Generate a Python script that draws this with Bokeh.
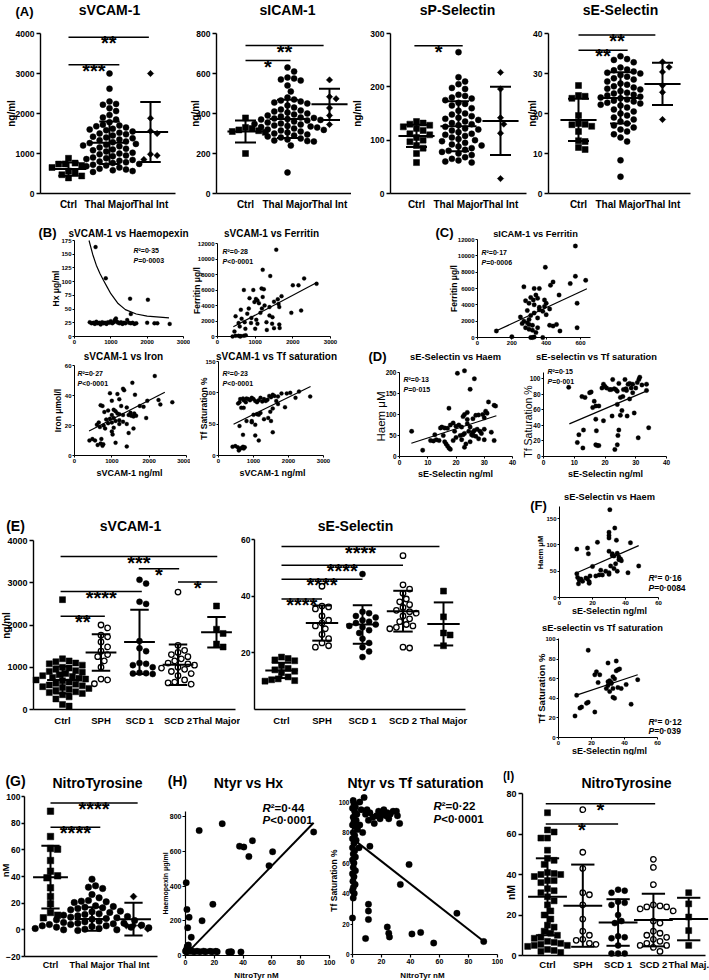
import numpy as np
from bokeh.plotting import figure
from bokeh.models import Range1d, Label, FixedTicker
from bokeh.layouts import row, column
from bokeh.embed import file_html
from bokeh.resources import INLINE

FONT = "Liberation Sans"

# ============================ DATA ============================
a_cats = ["Ctrl", "Thal Major", "Thal Int"]
e_cats = ["Ctrl", "SPH", "SCD 1", "SCD 2", "Thal Major"]
i_cats = ["Ctrl", "SPH", "SCD 1", "SCD 2", "Thal Maj."]

# (A) sVCAM-1 ng/ml
a1_ctrl = [880, 760, 740, 735, 700, 650, 560, 520, 470, 440, 390]
a1_tmaj = [3000, 2620, 2300, 2240, 2220, 2130, 2060, 1960, 1900, 1850, 1780, 1720, 1700, 1680,
           1650, 1620, 1600, 1580, 1550, 1520, 1500, 1480, 1450, 1420, 1400, 1380, 1350, 1330,
           1300, 1280, 1260, 1240, 1220, 1200, 1180, 1150, 1120, 1100, 1080, 1050, 1020, 1000,
           980, 950, 930, 900, 880, 860, 840, 820, 800, 780, 760, 740, 720, 700, 680, 650, 620,
           600, 580, 560, 540]
a1_tint = [3000, 1880, 1560, 1500, 980, 950, 850]
a1_mean = [610, 1270, 1540]
a1_sd = [165, 530, 750]
a1_sig = [("***", 1.0, 2.24, 3220), ("**", 1.0, 2.96, 3905)]

# (A) sICAM-1 ng/ml
a2_ctrl = [378, 330, 325, 318, 314, 310, 306, 200]
a2_tmaj = [630, 610, 580, 575, 570, 565, 540, 510, 480, 470, 465, 460, 455, 450, 440, 430, 420,
           415, 410, 405, 400, 395, 390, 385, 380, 378, 375, 372, 370, 368, 365, 360, 355, 350,
           348, 345, 340, 338, 335, 332, 330, 325, 320, 318, 315, 310, 305, 300, 295, 290, 285,
           280, 275, 270, 265, 262, 260, 240, 105]
a2_tint = [568, 484, 474, 428, 390, 345]
a2_mean = [310, 373, 446]
a2_sd = [55, 96, 78]
a2_sig = [("*", 1.0, 2.07, 665), ("**", 1.0, 2.86, 740)]

# (A) sP-Selectin ng/ml
a3_ctrl = [135, 132, 130, 128, 125, 122, 118, 112, 110, 105, 100, 97, 90, 85, 75, 58]
a3_tmaj = [265, 218, 210, 205, 198, 196, 185, 183, 180, 178, 175, 170, 168, 165, 160, 155, 150,
           148, 145, 142, 140, 138, 135, 132, 130, 128, 125, 122, 120, 118, 115, 112, 110, 108,
           105, 102, 100, 98, 95, 92, 90, 88, 85, 82, 80, 78, 75, 72, 68, 65, 62, 60, 58]
a3_tint = [227, 196, 142, 130, 113, 28]
a3_mean = [108, 126, 136]
a3_sd = [21, 47, 64]
a3_sig = [("*", 0.95, 2.1, 277)]

# (A) sE-Selectin ng/ml
a4_ctrl = [27, 24.5, 24.3, 23.8, 19.5, 17.5, 17.3, 17.2, 16.8, 15.5, 13.2, 13.0, 11.5, 11.0]
a4_tmaj = [34.3, 33.6, 33.4, 32.8, 31.5, 31.0, 30.8, 30.5, 30.2, 30.0, 29.6, 29.2, 28.8, 28.5,
           28.0, 27.5, 27.2, 26.8, 26.5, 26.2, 26.0, 25.6, 25.2, 25.0, 24.7, 24.5, 24.2, 24.0,
           23.8, 23.5, 23.2, 23.0, 22.7, 22.5, 22.2, 22.0, 21.5, 21.0, 20.5, 20.0, 19.5, 19.0,
           18.5, 18.0, 17.5, 17.0, 16.5, 16.0, 15.5, 14.8, 14.0, 13.0, 8.3, 4.2]
a4_tint = [32.9, 31.6, 30.4, 27.0, 25.3, 18.5]
a4_mean = [18.4, 23.9, 27.4]
a4_sd = [5.3, 6.4, 5.3]
a4_sig = [("**", 1.0, 2.17, 35.8), ("**", 1.0, 2.83, 39.6)]

# (B) sVCAM-1 (x) vs Haemopexin (y)
b1_pts = [(420, 26), (470, 24), (520, 25), (560, 23), (600, 27), (640, 24), (680, 25), (720, 22),
          (760, 26), (800, 24), (840, 25), (880, 23), (920, 26), (960, 25), (1000, 28), (1040, 24),
          (1080, 26), (1110, 30), (1140, 33), (1170, 27), (1200, 25), (1240, 24), (1280, 26),
          (1320, 23), (1360, 25), (1400, 24), (1450, 30), (1500, 25), (1550, 24), (1600, 25),
          (1650, 23), (1700, 24), (2000, 25), (2200, 24), (2280, 24), (2620, 23),
          (580, 163), (860, 106), (1530, 69), (2020, 67), (1550, 41)]
b1_curve_x = [400, 500, 600, 700, 800, 900, 1000, 1200, 1400, 1700, 2000, 2600]
b1_curve_y = [175, 150, 130, 115, 102, 90, 78, 60, 49, 41, 37, 34]

# (B) sVCAM-1 vs Ferritin
b2_pts = [(1560, 11200), (1200, 8600), (1400, 7800), (2300, 7500), (2630, 6800), (2000, 6600),
          (2150, 6600), (700, 6000), (950, 6000), (1170, 6200), (1230, 6100), (1700, 5200),
          (1200, 5100), (850, 4950), (1020, 4850), (1060, 4650), (980, 4450), (1600, 4800),
          (1620, 4200), (1380, 3800), (1640, 3800), (1960, 3050), (2220, 3350), (830, 3600),
          (1180, 3600), (620, 3450), (790, 2950), (1140, 3050), (1380, 2700), (1460, 2500),
          (480, 2600), (640, 2300), (900, 2400), (1030, 2150), (560, 1750), (720, 1850),
          (890, 1750), (1060, 1650), (1300, 1850), (1450, 1650), (1640, 1550), (590, 1300),
          (740, 1000), (1000, 1000), (1310, 850), (1500, 1080), (1650, 1100), (450, 650),
          (480, 100), (560, 100), (620, 50), (700, 100), (750, 150), (400, 0), (600, 0),
          (1100, 4300), (1250, 4000), (1500, 4500)]
b2_fit = ([420, 2650], [1250, 7000])

# (B) sVCAM-1 vs Iron
b3_pts = [(2150, 53), (1550, 48.5), (1300, 44.5), (1330, 43.5), (950, 41.5), (1150, 41), (1620, 40.5),
          (1200, 37.5), (1000, 36.5), (1950, 36.5), (2250, 37), (2620, 35.5), (2300, 34), (1750, 33),
          (1850, 32.5), (700, 33.5), (750, 33), (1250, 33), (1400, 32), (1050, 30.5), (900, 30),
          (1100, 29.5), (800, 29), (1500, 28.5), (1600, 28), (1150, 28), (1200, 27.5), (1000, 27),
          (1300, 27), (1450, 27), (1520, 26.5), (1580, 26), (1650, 26.5), (1050, 25), (950, 24.5),
          (850, 24), (1200, 23.5), (1100, 23), (1300, 22.5), (1000, 22), (900, 21.5), (650, 22),
          (600, 20.5), (780, 20), (1200, 21), (1400, 21), (1920, 25), (1050, 18.5), (820, 18),
          (680, 19), (1000, 16), (1580, 18), (1450, 15), (1100, 8.5), (1400, 6), (400, 10),
          (480, 11), (550, 10), (620, 7), (700, 8), (720, 11), (750, 6.5), (770, 7.5), (1020, 14)]
b3_fit = ([390, 2420], [16.3, 42.2])

# (B) sVCAM-1 vs Tf saturation
b4_pts = [(560, 83), (600, 85), (620, 90), (700, 91), (720, 88), (780, 85), (800, 91), (850, 90),
          (900, 88), (950, 92), (1000, 90), (1050, 87), (1100, 85), (1150, 88), (1200, 92),
          (1250, 86), (1300, 90), (1350, 87), (1400, 89), (1450, 95), (1500, 93), (1550, 97),
          (1600, 95), (1700, 94), (1650, 87), (1800, 99), (1950, 99), (2050, 100), (2300, 102),
          (2620, 94), (2200, 92), (1900, 77), (1700, 82), (650, 76), (720, 76), (1550, 75),
          (1480, 70), (1200, 68), (1150, 65), (1100, 66), (1000, 65), (1420, 60), (1500, 55),
          (1300, 58), (950, 55), (950, 53), (1050, 49), (800, 55), (600, 47), (1550, 37),
          (1050, 32), (700, 33), (1150, 24), (400, 14), (480, 15), (550, 13), (600, 10),
          (650, 12), (700, 14), (720, 11), (750, 13), (580, 8)]
b4_fit = ([430, 2630], [50, 110])

# (C) sICAM-1 vs Ferritin
c_pts = [(570, 11200), (395, 8600), (570, 7500), (630, 7000), (440, 6800), (425, 6400), (540, 6600),
         (270, 6200), (330, 6000), (360, 6000), (475, 5200), (340, 5200), (310, 4900), (280, 4500),
         (325, 4600), (350, 4800), (300, 4200), (330, 4000), (400, 4200), (390, 3800), (420, 3500),
         (360, 3700), (290, 3300), (250, 2500), (330, 3000), (380, 3200), (310, 2700), (350, 2400),
         (270, 2000), (290, 1800), (300, 1600), (260, 1700), (320, 1500), (420, 1500), (440, 1400),
         (460, 1600), (480, 800), (350, 1200), (300, 1000), (320, 900), (580, 4200), (580, 1200),
         (110, 800), (200, 100), (310, 0), (320, 0), (330, 50), (380, 0), (340, 600), (280, 1200),
         (360, 3400), (400, 2800), (300, 2200), (390, 4600)]
c_fit = ([110, 637], [820, 5960])

# (D) sE-Selectin vs Haem
d1_pts = [(4.3, 60), (8.2, 15), (20.5, 198), (23, 204), (26.5, 185), (25, 160), (17.5, 115),
          (31.5, 130), (33.5, 122), (34, 120), (30.5, 108), (31, 103), (29.5, 100), (28, 99),
          (27, 98), (23, 100), (24, 105), (22.5, 95), (26, 90), (30, 92), (19, 80), (18, 75),
          (16, 68), (15, 70), (14.5, 68), (17, 67), (20, 72), (22, 70), (24, 78), (25, 70),
          (26.5, 62), (28.5, 60), (30, 65), (32.5, 58), (21.5, 50), (23, 55), (24.5, 60),
          (25.5, 52), (27, 48), (28, 42), (29, 55), (30, 40), (33.5, 38), (12, 37), (13, 40),
          (15.5, 50), (16.5, 30), (17, 25), (17.5, 20), (18, 17), (16, 35), (19, 38), (20, 45),
          (22, 40), (23, 22), (23.5, 30), (25, 35), (26, 50), (27.5, 65), (12.5, 52), (14, 38),
          (11, 38), (19.5, 60), (21, 75), (24, 88), (22.5, 52), (26, 58)]
d1_fit = ([4.2, 34.3], [31.6, 97])

# (D) sE-selectin vs Tf saturation
d2_pts = [(8.2, 89), (11, 18), (11.5, 28), (12.8, 11), (13, 34), (12.5, 77), (13.5, 76), (15, 82),
          (15.5, 83), (16, 63), (16.5, 71), (17, 65), (17, 48), (17.2, 33), (17, 15), (17.5, 14),
          (18, 14), (18, 65), (19, 88), (19.5, 93), (19.5, 46), (20, 90), (20.5, 88), (22, 86),
          (22.5, 99), (22.3, 52), (23, 87), (23.5, 86), (24, 84), (24, 67), (23.2, 9), (24, 15),
          (24.2, 27), (24.5, 34), (24.5, 94), (25, 76), (25, 53), (25.5, 59), (25.8, 77),
          (26.5, 99), (26.8, 87), (27, 85), (27.2, 52), (27.5, 93), (28, 94), (28.5, 88),
          (29, 82), (29.5, 56), (30, 88), (30.5, 95), (31, 99), (31.3, 102), (32, 92),
          (33.5, 93), (33.5, 85), (30.8, 24), (34.2, 37), (28, 74), (26, 86), (21.5, 86), (29, 93)]
d2_fit = ([8.4, 34], [42, 85])

# (E) sVCAM-1 ng/ml
e1_groups = [
    [2600, 1200, 1150, 1130, 1100, 1080, 1050, 1000, 980, 950, 920, 900, 880, 850, 820, 800, 780,
     760, 740, 720, 700, 680, 650, 620, 600, 580, 560, 540, 520, 500, 480, 450, 420, 400, 380, 350,
     300, 250, 120, 80],
    [2000, 1930, 1760, 1720, 1600, 1480, 1380, 1300, 1250, 1150, 1000, 720, 700, 610],
    [3070, 2980, 2550, 2500, 1620, 1450, 1380, 1100, 1080, 1050, 1000, 870, 860, 850, 840],
    [2780, 1520, 1400, 1350, 1300, 1250, 1200, 1150, 1100, 1080, 1050, 1000, 980, 950, 900, 850,
     800, 700, 650, 630, 600],
    [2450, 1900, 1800, 1550, 1480]]
e1_mean = [700, 1350, 1600, 1060, 1830]
e1_sd = [320, 430, 760, 480, 360]
e1_sig = [("**", 0.95, 2.1, 2210), ("****", 0.95, 3.06, 2790), ("*", 4.0, 5.02, 3020),
          ("*", 2.98, 4.03, 3330), ("***", 0.95, 5.02, 3620)]

# (E) sE-Selectin ng/ml
e2_groups = [
    [18.5, 18.0, 17.5, 17.2, 15.5, 14.5, 14.0, 13.5, 13.0, 11.5, 10.8, 10.5, 10.2, 10.0],
    [43.5, 36.5, 36.2, 35.5, 33.0, 31.5, 30.5, 29.5, 28.5, 26.5, 25.0, 23.5, 22.5, 22.0],
    [47.8, 34.5, 34.0, 33.0, 32.5, 31.5, 31.0, 30.5, 30.0, 29.5, 29.0, 28.0, 27.0, 25.0, 23.5,
     22.0, 20.5, 18.5],
    [54.3, 44.0, 42.5, 41.0, 39.0, 38.0, 37.0, 36.0, 35.0, 34.5, 34.0, 33.0, 32.0, 31.0, 30.0,
     29.5, 29.0, 28.5, 22.0, 21.7],
    [41.8, 32.7, 27.0, 26.3, 22.5]]
e2_mean = [13.8, 30.5, 30.0, 34.7, 30.2]
e2_sd = [2.7, 6.2, 6.8, 7.2, 7.6]
e2_sig = [("****", 1.0, 2.0, 39.0), ("****", 1.0, 3.0, 46.0), ("****", 1.0, 4.0, 50.9),
          ("****", 1.0, 4.9, 57.5)]

# (F) sE-Selectin vs Haem / Tf saturation
f1_pts = [(10.5, 92), (17, 94), (17.5, 83), (23, 105), (30, 124), (30, 118), (30, 113), (30.5, 167),
          (33.5, 132), (34.5, 109), (30, 88), (32, 83), (33, 79), (35, 84), (36, 77), (37, 73),
          (37.5, 70), (43, 104), (48, 60), (41.5, 47), (10.5, 45), (11, 38), (11.5, 26), (12, 33),
          (13, 35), (14, 31), (16, 37), (17, 35), (18, 27), (18, 30), (18.5, 41), (20, 59),
          (22, 41), (24, 43), (26, 43), (25, 52), (28, 50), (30, 47), (30, 44), (31, 60), (33, 55),
          (34, 64), (35, 50), (36, 72), (32, 80)]
f1_fit = ([10.5, 48], [47, 98.7])
f2_pts = [(18, 89), (10, 22), (11, 43), (13, 30), (14, 31), (17, 35), (18, 36), (22, 64), (23, 67),
          (22, 26), (24, 56), (25, 64), (30, 76), (30, 57), (30, 53), (29, 50), (31, 47), (32, 56),
          (32, 55), (33, 50), (33, 41), (34, 40), (34, 60), (35, 68), (35, 78), (36, 69), (37, 70),
          (36, 51), (38, 50), (41, 54), (44, 34), (48, 59), (31, 58), (33, 62)]
f2_fit = ([10.5, 48], [43, 64])

# (G) NitroTyrosine nM
g_groups = [
    [89, 70, 61, 60.5, 52, 44, 40.5, 39, 31.5, 25, 19.5, 13, 11, 9],
    [38, 33, 32, 31, 26.5, 24, 22, 21.5, 21, 20.5, 18, 17.5, 17, 16.5, 16, 15, 14, 13.5, 13, 12,
     11.5, 11, 10.5, 10, 9.5, 9, 8.5, 8, 7.5, 7, 6.5, 6, 5.5, 5, 5, 4.5, 4, 4, 3.5, 3, 3, 2.5, 2,
     2, 1.5, 1, 1, 0.5, 0, 0, -0.5],
    [25, 3.2, 0.7, 3.2, 3.2]]
g_mean = [39.5, 8.2, 8.0]
g_sd = [23.5, 8.8, 12.3]
g_sig = [("****", 1.0, 2.2, 77), ("****", 1.0, 3.1, 95.2)]

# (H) NitroTyr vs Hx / Tf saturation
h1_pts = [(0.5, 420), (1, 265), (2.5, 220), (1.5, 160), (4, 105), (9.5, 720), (11.5, 200),
          (19, 295), (25.5, 760), (37.5, 630), (40.5, 625), (44, 570), (46.5, 662), (58, 518),
          (60.5, 598), (89, 712),
          (0, 25), (0.5, 30), (1, 40), (1.5, 55), (2, 60), (2.5, 35), (3, 25), (0.8, 20), (1.2, 50),
          (3.5, 28), (4.5, 25), (6, 22), (8, 25), (10, 22), (12.5, 25), (14, 22), (17, 24),
          (18.5, 22), (21, 24), (22, 22), (30, 20), (31.5, 22), (32, 20), (38.5, 20)]
h1_fit = ([0, 89], [5, 765])
h2_pts = [(0.5, 101), (1, 99), (2, 97), (0, 96), (1.5, 94), (3, 92), (0.5, 90), (2.5, 88), (1, 87),
          (0, 85), (2, 84), (3.5, 82), (0.5, 80), (1.5, 78), (0, 76), (2.5, 75), (1, 73), (0, 70),
          (1.5, 68), (0.5, 66), (2, 64), (0, 62), (1, 60), (0.5, 57), (2, 55), (0, 53), (1, 51),
          (0.3, 48), (1.8, 46), (0.6, 44), (0, 42), (1.2, 40), (0.5, 37), (0, 24),
          (5, 100), (6, 95), (8, 103), (9, 92), (10, 95), (11, 88), (12, 93), (14, 90), (15, 86),
          (16.5, 91), (18, 94), (19, 89), (20, 92), (21.6, 95), (23, 91), (24, 93), (25, 89),
          (26, 92), (28, 94), (30.3, 94), (31, 91), (32.5, 86), (5, 85), (7, 80), (4.5, 70), (12, 71),
          (33, 46), (39, 59), (11, 33), (11, 28.5), (11, 23), (24, 18), (25, 14), (25.5, 11.5),
          (9, 10.5), (41, 13.5), (47, 14.5), (56, 7.5), (72, 27), (90.5, 8.5)]
h2_fit = ([0, 90], [76, 9])

# (I) NitroTyrosine nM
i_groups = [
    [70.5, 62, 61, 58, 58, 52, 48, 47, 45, 41, 40.5, 40, 40, 39, 37, 37, 36, 33, 32, 31, 29, 27,
     25, 22, 20, 18, 15, 14, 12, 11, 10, 9, 8.5, 7, 6.5, 6, 5.5, 5, 5, 4.5, 3, 2.5, 2, 1.5],
    [72, 51, 43, 31, 30, 25, 18, 12, 10, 8, 7.5, 6, 5.5],
    [32.5, 32, 31, 26.5, 26, 25, 20, 17, 16, 9.5, 9, 8.5, 5, 1, 1, 1],
    [47.5, 43.5, 35, 25, 24.5, 24, 24, 23, 22, 17, 16, 12, 11, 10, 9, 8, 7, 6, 5, 5, 4, 2],
    [31, 25.5, 19, 12.3, 5]]
i_mean = [29, 24.6, 16.3, 17.5, 18]
i_sd = [19, 20.3, 11.5, 13, 10.5]
i_sig = [("*", 0.95, 3.0, 65), ("*", 0.95, 4.05, 75)]


# ============================ HELPERS ============================
class Panel:
    """A figure covering a page box; its plot area (axes) sits at a given page rectangle."""

    def __init__(self, box, frame, xr, yr):
        gx0, gy0, gx1, gy1 = box
        self.f = frame
        self.xr = xr
        self.yr = yr
        p = figure(width=gx1 - gx0, height=gy1 - gy0,
                   x_range=Range1d(self.dx(gx0), self.dx(gx1)),
                   y_range=Range1d(self.dy(gy1), self.dy(gy0)),
                   min_border=0, min_border_left=0, min_border_right=0,
                   min_border_top=0, min_border_bottom=0,
                   output_backend="svg", toolbar_location=None, title=None)
        p.xgrid.visible = False
        p.ygrid.visible = False
        p.outline_line_color = None
        p.background_fill_color = "white"
        p.border_fill_color = "white"
        self.p = p

    def ppx(self):
        return (self.f[2] - self.f[0]) / (self.xr[1] - self.xr[0])

    def ppy(self):
        return (self.f[3] - self.f[1]) / (self.yr[1] - self.yr[0])

    def dx(self, px):
        return self.xr[0] + (px - self.f[0]) / self.ppx()

    def dy(self, py):
        return self.yr[0] + (self.f[3] - py) / self.ppy()

    def px(self, x):
        return self.f[0] + (x - self.xr[0]) * self.ppx()

    def py(self, y):
        return self.f[3] - (y - self.yr[0]) * self.ppy()


def cat_range(frame, c1, s):
    return (1 + (frame[0] - c1) / s, 1 + (frame[2] - c1) / s)


def axes(P, xticks, yticks, xfs, yfs, xout, yout, xst, yst, lw, xlabels=None):
    xa = P.p.xaxis[0]
    ya = P.p.yaxis[0]
    xa.fixed_location = P.yr[0]
    xa.bounds = (P.xr[0], P.xr[1])
    ya.fixed_location = P.xr[0]
    ya.bounds = (P.yr[0], P.yr[1])
    specs = [(xa, xticks, xfs, xout, xst), (ya, yticks, yfs, yout, yst)]
    for ax, ticks, fs, out, st in specs:
        ax.ticker = FixedTicker(ticks=ticks, minor_ticks=[])
        ax.axis_line_color = "black"
        ax.axis_line_width = lw
        ax.major_tick_line_color = "black" if out > 0 else None
        ax.major_tick_line_width = lw
        ax.major_tick_out = out
        ax.major_tick_in = 0
        ax.minor_tick_out = 0
        ax.minor_tick_in = 0
        ax.minor_tick_line_color = None
        ax.major_label_text_font = FONT
        ax.major_label_text_font_style = "bold"
        ax.major_label_text_font_size = f"{fs}px"
        ax.major_label_text_color = "black"
        ax.major_label_standoff = st
    if xlabels:
        xa.major_label_overrides = {i + 1: t for i, t in enumerate(xlabels)}


def lab(P, px, py, text, size, bold=True, italic=False, align="center",
        baseline="middle", angle=0.0):
    style = ("bold " if bold else "") + ("italic" if italic else "")
    style = style.strip() or "normal"
    P.p.add_layout(Label(x=P.dx(px), y=P.dy(py), x_units="data", y_units="data", text=text,
                         text_font=FONT, text_font_size=f"{size}px", text_font_style=style,
                         text_align=align, text_baseline=baseline, angle=angle,
                         text_color="black"))


def stat(P, px, py1, py2, r2, pv, size):
    lab(P, px, py1, "R", size, italic=True, align="left")
    lab(P, px + 0.72 * size, py1, "\u00b2" + r2, size, align="left")
    lab(P, px, py2, "P", size, italic=True, align="left")
    lab(P, px + 0.667 * size, py2, pv, size, align="left")


def beeswarm(vals, ppx, ppy, d):
    v = np.asarray(vals, dtype=float)
    order = np.argsort(-v, kind="stable")
    placed = []
    off = np.zeros(len(v))
    step = d / 2.0
    for i in order:
        yp = v[i] * ppy
        k = 0
        chosen = None
        while chosen is None:
            cands = [0.0] if k == 0 else [k * step, -k * step]
            for c in cands:
                if all((c - qx) ** 2 + (yp - qy) ** 2 >= (0.97 * d) ** 2 for qx, qy in placed):
                    chosen = c
                    break
            k += 1
        placed.append((chosen, yp))
        off[i] = chosen / ppx
    return off


def group(P, pos, vals, kind, size):
    d = size + 0.6
    off = beeswarm(vals, P.ppx(), P.ppy(), d)
    xs = [pos + o for o in off]
    if kind == "sq":
        P.p.scatter(xs, vals, marker="square", size=size, fill_color="black",
                    line_color="black", line_width=0.5)
    elif kind == "ci":
        P.p.scatter(xs, vals, marker="circle", size=size, fill_color="black",
                    line_color="black", line_width=0.5)
    elif kind == "oc":
        P.p.scatter(xs, vals, marker="circle", size=size - 0.5, fill_color="white",
                    line_color="black", line_width=1.3)
    elif kind == "di":
        P.p.scatter(xs, vals, marker="square", angle=np.pi / 4, size=size * 0.75,
                    fill_color="black", line_color="black", line_width=0.5)


def bars(P, means, sds, hw, cw, lw):
    for i, (m, s) in enumerate(zip(means, sds)):
        c = i + 1
        P.p.segment(x0=[c - hw, c, c - cw, c - cw], y0=[m, m - s, m + s, m - s],
                    x1=[c + hw, c, c + cw, c + cw], y1=[m, m + s, m + s, m - s],
                    line_color="black", line_width=lw)


def sig(P, items, size=20, lw=1.5):
    for txt, xa, xb, yv in items:
        P.p.segment(x0=[xa], y0=[yv], x1=[xb], y1=[yv], line_color="black", line_width=lw)
        lab(P, (P.px(xa) + P.px(xb)) / 2, P.py(yv) + 0.3 * size, txt, size,
            baseline="alphabetic")


def dots(P, pts, size):
    xs = [a for a, b in pts]
    ys = [b for a, b in pts]
    P.p.scatter(xs, ys, marker="circle", size=size, fill_color="black", line_color="black",
                line_width=0.3)


def fit(P, xy, lw=1.2):
    P.p.line(xy[0], xy[1], line_color="black", line_width=lw)


# ============================ (A) ============================
A_specs = [
    dict(box=(0, 0, 189, 222), frame=(40, 33, 175, 193), c1=68, s=41, yr=(0, 4000),
         yt=[0, 1000, 2000, 3000, 4000], groups=[a1_ctrl, a1_tmaj, a1_tint], mean=a1_mean,
         sd=a1_sd, sig=a1_sig, title="sVCAM-1", tx=109, lx=11),
    dict(box=(189, 0, 351, 222), frame=(216, 33, 351, 193), c1=245, s=42, yr=(0, 800),
         yt=[0, 200, 400, 600, 800], groups=[a2_ctrl, a2_tmaj, a2_tint], mean=a2_mean,
         sd=a2_sd, sig=a2_sig, title="sICAM-1", tx=287, lx=195),
    dict(box=(351, 0, 527, 222), frame=(390, 33, 526, 193), c1=416, s=42, yr=(0, 300),
         yt=[0, 100, 200, 300], groups=[a3_ctrl, a3_tmaj, a3_tint], mean=a3_mean,
         sd=a3_sd, sig=a3_sig, title="sP-Selectin", tx=457, lx=357),
    dict(box=(527, 0, 709, 222), frame=(548, 33, 690, 193), c1=578, s=42, yr=(0, 40),
         yt=[0, 10, 20, 30, 40], groups=[a4_ctrl, a4_tmaj, a4_tint], mean=a4_mean,
         sd=a4_sd, sig=a4_sig, title="sE-Selectin", tx=620, lx=532),
]
Ap = []
for sp in A_specs:
    P = Panel(sp["box"], sp["frame"], cat_range(sp["frame"], sp["c1"], sp["s"]), sp["yr"])
    axes(P, [1, 2, 3], sp["yt"], 10, 8.5, 0, 4, 5, 2, 1.4, a_cats)
    for j, (vals, kind) in enumerate(zip(sp["groups"], ["sq", "ci", "di"])):
        group(P, j + 1, vals, kind, 6.0)
    bars(P, sp["mean"], sp["sd"], 0.43, 0.25, 2.0)
    sig(P, sp["sig"], 20)
    lab(P, sp["tx"], 9, sp["title"], 14)
    lab(P, sp["lx"], 113, "ng/ml", 10, angle=np.pi / 2)
    Ap.append(P)
lab(Ap[0], 24, 11, "(A)", 13)

# ============================ (B) ============================
sv_ticks = [0, 1000, 2000, 3000]
B1 = Panel((0, 222, 190, 348), (74, 240, 183, 336), (0, 3000), (0, 175))
axes(B1, sv_ticks, [0, 25, 50, 75, 100, 125, 150, 175], 6, 6, 2, 2, 1, 1, 1.0)
dots(B1, b1_pts, 4)
B1.p.line(b1_curve_x, b1_curve_y, line_color="black", line_width=1.2)
lab(B1, 47, 232, "(B)", 13)
lab(B1, 128, 233, "sVCAM-1 vs Haemopexin", 10)
lab(B1, 55, 288, "Hx \u03bcg/ml", 8.5, angle=np.pi / 2)
stat(B1, 133, 250, 260, "=0\u00b735", "=0\u00b70003", 7)

B2 = Panel((190, 222, 345, 348), (217, 243, 330, 336), (0, 3000), (0, 12000))
axes(B2, sv_ticks, [0, 2000, 4000, 6000, 8000, 10000, 12000], 6, 6, 2, 2, 1, 1, 1.0)
dots(B2, b2_pts, 4)
fit(B2, b2_fit)
lab(B2, 271, 233, "sVCAM-1 vs Ferritin", 10)
lab(B2, 196, 290, "Ferritin \u03bcg/l", 8.5, angle=np.pi / 2)
stat(B2, 222, 251, 261, "=0\u00b728", "<0\u00b70001", 7)

B3 = Panel((0, 348, 190, 480), (74, 365, 186, 455), (0, 3000), (0, 60))
axes(B3, sv_ticks, [0, 20, 40, 60], 6, 6, 2, 2, 1, 1, 1.0)
dots(B3, b3_pts, 4)
fit(B3, b3_fit)
lab(B3, 123, 356, "sVCAM-1 vs Iron", 10)
lab(B3, 57, 410, "Iron \u03bcmol/l", 8.5, angle=np.pi / 2)
lab(B3, 129, 472, "sVCAM-1 ng/ml", 9)
stat(B3, 77, 373, 383, "=0\u00b727", "<0\u00b70001", 7)

B4 = Panel((190, 348, 345, 480), (218, 361, 323, 455), (0, 3000), (0, 150))
axes(B4, sv_ticks, [0, 50, 100, 150], 6, 6, 2, 2, 1, 1, 1.0)
dots(B4, b4_pts, 4)
fit(B4, b4_fit)
lab(B4, 276, 356, "sVCAM-1 vs Tf saturation", 10)
lab(B4, 203, 408, "Tf Saturation %", 8.5, angle=np.pi / 2)
lab(B4, 272, 472, "sVCAM-1 ng/ml", 9)
stat(B4, 222, 373, 383, "=0\u00b723", "<0\u00b70001", 7)

# ============================ (C) ============================
C = Panel((345, 222, 709, 348), (477, 239, 590, 337), (0, 658), (0, 12000))
axes(C, [0, 200, 400, 600], [0, 2000, 4000, 6000, 8000, 10000, 12000], 6, 6, 2, 2, 1, 1, 1.0)
dots(C, c_pts, 4.5)
fit(C, c_fit)
lab(C, 444, 232, "(C)", 13)
lab(C, 535, 233, "sICAM-1 vs Ferritin", 9.3)
lab(C, 453, 288, "Ferritin \u03bcg/l", 8.5, angle=np.pi / 2)
stat(C, 481, 252, 262, "=0\u00b717", "=0\u00b70006", 7)

# ============================ (D) ============================
D1 = Panel((345, 348, 519, 480), (399, 372, 512, 456), (0, 40), (0, 200))
axes(D1, [0, 10, 20, 30, 40], [0, 50, 100, 150, 200], 6.5, 6.5, 2, 2, 1, 1, 1.0)
dots(D1, d1_pts, 4.5)
fit(D1, d1_fit)
lab(D1, 377, 356, "(D)", 13)
lab(D1, 455, 356, "sE-Selectin vs Haem", 9.3)
lab(D1, 380, 416, "Haem \u03bcM", 11.5, bold=False, angle=np.pi / 2)
lab(D1, 455, 473, "sE-Selectin ng/ml", 9)
stat(D1, 403, 379, 389, "=0\u00b713", "=0\u00b7015", 7)

D2 = Panel((519, 348, 709, 480), (543, 372, 666, 456), (0, 40), (0, 108))
axes(D2, [0, 10, 20, 30, 40], [0, 20, 40, 60, 80, 100], 6.5, 6.5, 2, 2, 1, 1, 1.0)
dots(D2, d2_pts, 4.5)
fit(D2, d2_fit)
lab(D2, 596, 356, "sE-selectin vs Tf saturation", 9.3)
lab(D2, 527, 421, "Tf Saturation %", 10.5, bold=False, angle=np.pi / 2)
lab(D2, 605, 473, "sE-Selectin ng/ml", 9)
stat(D2, 547, 371, 381, "=0\u00b715", "=0\u00b7001", 7)

# ============================ (E) ============================
E1f = (33, 540, 235, 709)
E1 = Panel((0, 480, 240, 755), E1f, cat_range(E1f, 62, 38.5), (0, 4000))
axes(E1, [1, 2, 3, 4, 5], [0, 1000, 2000, 3000, 4000], 9.5, 9, 0, 4, 5, 2, 1.4, e_cats)
for j, (vals, kind) in enumerate(zip(e1_groups, ["sq", "oc", "ci", "oc", "sq"])):
    group(E1, j + 1, vals, kind, 6.0)
bars(E1, e1_mean, e1_sd, 0.4, 0.24, 2.0)
sig(E1, e1_sig, 20)
lab(E1, 15, 525, "(E)", 14)
lab(E1, 130, 525, "sVCAM-1", 14)
lab(E1, 6, 625, "ng/ml", 10, angle=np.pi / 2)

E2f = (254, 539, 465, 709)
E2 = Panel((240, 480, 500, 755), E2f, cat_range(E2f, 281, 40.5), (0, 60))
axes(E2, [1, 2, 3, 4, 5], [20, 40, 60], 9.5, 8.5, 0, 3, 5, 1, 1.4, e_cats)
for j, (vals, kind) in enumerate(zip(e2_groups, ["sq", "oc", "ci", "oc", "sq"])):
    group(E2, j + 1, vals, kind, 6.0)
bars(E2, e2_mean, e2_sd, 0.4, 0.24, 2.0)
sig(E2, e2_sig, 20)
lab(E2, 355, 525, "sE-Selectin", 14)

# ============================ (F) ============================
F1 = Panel((500, 480, 709, 619), (559, 506, 658, 597), (0, 60), (0, 173))
axes(F1, [0, 20, 40, 60], [0, 50, 100, 150], 6, 6, 2, 2, 1, 1, 1.0)
dots(F1, f1_pts, 4.5)
fit(F1, f1_fit)
lab(F1, 538, 505, "(F)", 13)
lab(F1, 609, 496, "sE-Selectin vs Haem", 9.3)
lab(F1, 540, 552, "Haem \u03bcM", 7.5, angle=np.pi / 2)
lab(F1, 609, 610, "sE-Selectin ng/ml", 9)
stat(F1, 648, 577, 587, "= 0\u00b716", "=0\u00b70084", 8.5)

F2 = Panel((500, 619, 709, 755), (558, 638, 657, 737), (0, 60), (0, 101))
axes(F2, [0, 20, 40, 60], [0, 20, 40, 60, 80, 100], 6, 6, 2, 2, 1, 1, 1.0)
dots(F2, f2_pts, 4.5)
fit(F2, f2_fit)
lab(F2, 602, 627, "sE-selectin vs Tf saturation", 9.3)
lab(F2, 541, 688, "Tf Saturation %", 9.5, angle=np.pi / 2)
lab(F2, 609, 750, "sE-Selectin ng/ml", 9)
stat(F2, 648, 721, 730, "= 0\u00b712", "=0\u00b7039", 8.5)

# ============================ (G) ============================
Gf = (24, 796, 157, 956)
G = Panel((0, 755, 160, 980), Gf, cat_range(Gf, 50, 41.5), (-20, 100))
axes(G, [1, 2, 3], [-20, 0, 20, 40, 60, 80, 100], 9, 8.5, 0, 3, 3, 1, 1.4, a_cats)
for j, (vals, kind) in enumerate(zip(g_groups, ["sq", "ci", "di"])):
    group(G, j + 1, vals, kind, 6.5)
bars(G, g_mean, g_sd, 0.42, 0.22, 2.0)
sig(G, g_sig, 20)
lab(G, 15, 780, "(G)", 14)
lab(G, 97, 782, "NitroTyrosine", 14)
lab(G, 5, 870, "nM", 9.5, angle=np.pi / 2)

# ============================ (H) ============================
H1 = Panel((160, 755, 338, 980), (185, 811, 329, 955), (0, 100), (0, 830))
axes(H1, [0, 20, 40, 60, 80, 100], [0, 200, 400, 600, 800], 7, 7, 3, 3, 1, 1, 1.2)
dots(H1, h1_pts, 6.5)
fit(H1, h1_fit, 2.0)
lab(H1, 177, 780, "(H)", 14)
lab(H1, 248, 782, "Ntyr vs Hx", 14)
lab(H1, 165, 883, "Haemopexin \u03bcg/ml", 7, angle=np.pi / 2)
lab(H1, 256, 975, "NitroTyr nM", 8)
stat(H1, 262, 807, 819, "=0\u00b744", "<0\u00b70001", 11.5)
# y-axis title of the neighbouring Tf-saturation panel sits in this canvas
lab(H1, 333, 880, "Tf Saturation %", 8.5, angle=np.pi / 2)

H2 = Panel((338, 755, 503, 980), (352, 797, 497, 954), (0, 100), (0, 103))
axes(H2, [0, 20, 40, 60, 80, 100], [0, 20, 40, 60, 80, 100], 7, 6.5, 3, 2, 1, 1, 1.2)
dots(H2, h2_pts, 6.5)
fit(H2, h2_fit, 2.0)
lab(H2, 415, 782, "Ntyr vs Tf saturation", 14)
lab(H2, 422, 975, "NitroTyr nM", 8)
stat(H2, 433, 805, 818, "=0\u00b722", "<0\u00b70001", 11.5)

# ============================ (I) ============================
If = (522, 793, 705, 955)
I = Panel((503, 755, 709, 980), If, cat_range(If, 547, 35.3), (0, 80))
axes(I, [1, 2, 3, 4, 5], [0, 20, 40, 60, 80], 9.5, 9, 0, 4, 3, 2, 1.4, i_cats)
for j, (vals, kind) in enumerate(zip(i_groups, ["sq", "oc", "ci", "oc", "sq"])):
    group(I, j + 1, vals, kind, 6.0)
bars(I, i_mean, i_sd, 0.55, 0.33, 2.0)
sig(I, i_sig, 20)
lab(I, 508, 775, "(I)", 12)
lab(I, 626, 782, "NitroTyrosine", 14)
lab(I, 510, 892, "nM", 10.5, angle=np.pi / 2)

# ============================ LAYOUT ============================
band1 = row(Ap[0].p, Ap[1].p, Ap[2].p, Ap[3].p)
band2 = row(column(row(B1.p, B2.p), row(B3.p, B4.p)), column(C.p, row(D1.p, D2.p)))
band3 = row(E1.p, E2.p, column(F1.p, F2.p))
band4 = row(G.p, H1.p, H2.p, I.p)
layout = column(band1, band2, band3, band4)

open("out.html", "w").write(file_html(layout, INLINE))
